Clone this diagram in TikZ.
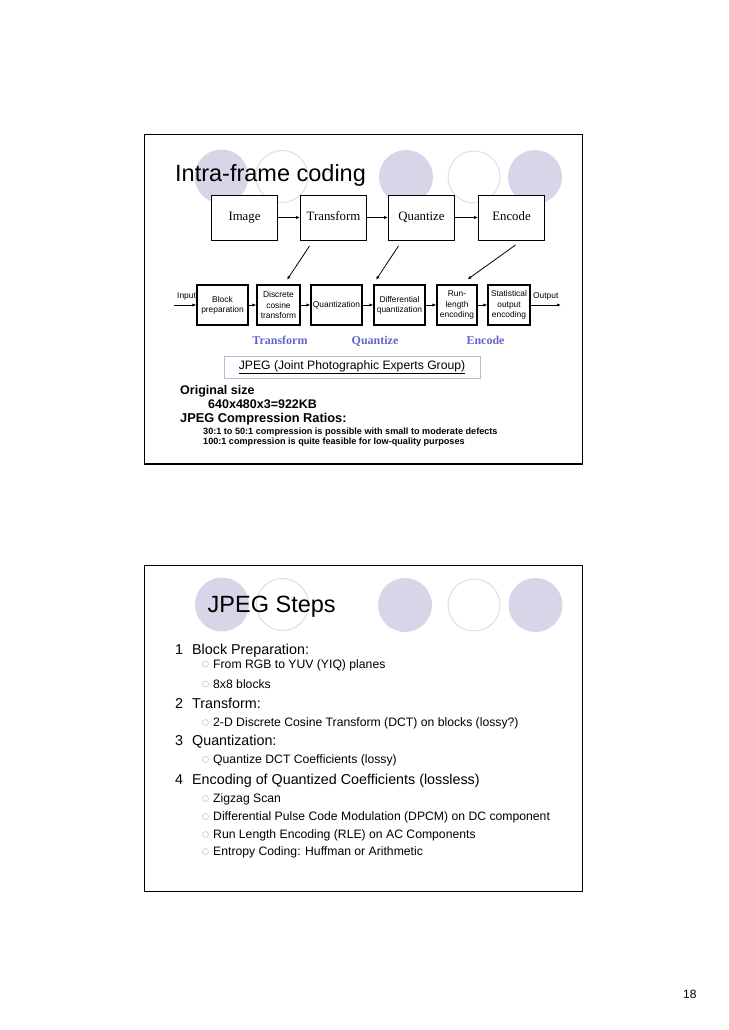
\documentclass[tikz,border=0pt]{standalone}
\usepackage{fontspec}
\setmainfont{Liberation Sans}
\newfontfamily\tms{Liberation Serif}
\usetikzlibrary{arrows.meta,calc}
\definecolor{lav}{RGB}{214,214,232}
\definecolor{lavline}{RGB}{218,218,234}
\definecolor{labblue}{RGB}{100,100,205}
\definecolor{jline}{RGB}{185,185,215}
\definecolor{bulc}{RGB}{200,200,218}
\newcommand{\fs}[1]{\fontsize{#1}{#1}\selectfont}
\begin{document}
\begin{tikzpicture}[x=1pt,y=-1pt,
  slide/.style={draw=black,line width=1.3pt},
  dfill/.style={fill=lav,draw=none},
  dring/.style={draw=lavline,line width=0.9pt,fill=white},
  tbox/.style={draw=black,line width=0.8pt,fill=white,minimum width=66pt,minimum height=45pt,inner sep=0pt,text height=9pt,text depth=3pt,font={\tms\fs{12.8}}},
  sbox/.style={draw=black,line width=1.2pt,fill=white,minimum height=40pt,inner sep=0pt,align=center,font={\fontsize{8.4}{10.3}\selectfont}},
  arr/.style={-{Latex[length=4pt,width=3.2pt]},line width=0.8pt},
  title/.style={anchor=base west,inner sep=0pt,font=\fs{23.5}},
  blab/.style={anchor=base,font={\tms\bfseries\fs{12}},text=labblue,inner sep=0pt},
  txt/.style={anchor=base west,inner sep=0pt},
  hdr/.style={anchor=base west,inner sep=0pt,font=\fs{14.3}},
  itm/.style={anchor=base west,inner sep=0pt,font=\fs{12.2}},
  bul/.style={draw=bulc,line width=0.6pt,fill=white}
]
\useasboundingbox (0,0) rectangle (728,1030);

% ---------- top slide ----------
\draw[slide] (144.5,134.5) rectangle (582.5,464);
\fill[dfill] (221.5,176.5) circle[radius=27pt];
\draw[dring] (282,176.5) circle[radius=26pt];
\fill[dfill] (406,177) circle[radius=27pt];
\draw[dring] (474,177) circle[radius=26pt];
\fill[dfill] (535,177) circle[radius=27pt];
\node[title] (t1) at (175,181.5) {Intra-frame coding};

\node[tbox] (img) at (244.5,217.5) {Image};
\node[tbox] (trf) at (333.5,217.5) {Transform};
\node[tbox] (qnt) at (421.5,217.5) {Quantize};
\node[tbox] (enc) at (511.5,217.5) {Encode};
\draw[arr] (img) -- (trf);
\draw[arr] (trf) -- (qnt);
\draw[arr] (qnt) -- (enc);

\node[sbox,minimum width=51pt] (bp) at (222.5,305) {Block\\preparation};
\node[sbox,minimum width=43pt] (dct) at (278.5,305) {Discrete\\cosine\\transform};
\node[sbox,minimum width=51pt] (qz) at (336.5,305) {Quantization};
\node[sbox,minimum width=51pt] (dq) at (399.5,305) {Differential\\quantization};
\node[sbox,minimum width=40pt] (rl) at (457,305) {Run-\\length\\encoding};
\node[sbox,minimum width=42pt] (st) at (509,305) {Statistical\\output\\encoding};
\coordinate (inp) at (174,305);
\coordinate (outp) at (561,305);
\node[txt,font=\fs{8.4}] (inl) at (177,298) {Input};
\node[txt,font=\fs{8.4}] (outl) at (533,298) {Output};
\draw[arr] (inp) -- (bp);
\draw[arr] (bp) -- (dct);
\draw[arr] (dct) -- (qz);
\draw[arr] (qz) -- (dq);
\draw[arr] (dq) -- (rl);
\draw[arr] (rl) -- (st);
\draw[arr] (st) -- (outp);

\coordinate (s1) at (309.5,246);
\coordinate (s2) at (398.5,246);
\coordinate (s3) at (515.5,245);
\draw[arr] (s1) -- ($(dct.north)+(8.5,-4.5)$);
\draw[arr] (s2) -- ($(dq.north)+(-23.5,-4.5)$);
\draw[arr] (s3) -- ($(rl.north)+(10.5,-5)$);

\node[blab] (l1) at (280,344) {Transform};
\node[blab] (l2) at (375,344) {Quantize};
\node[blab] (l3) at (485.5,344) {Encode};

\node[draw=jline,line width=0.8pt,minimum width=256pt,minimum height=22pt,inner sep=0pt,font=\fs{12.2}] (jp) at (352,367) {\underline{JPEG (Joint Photographic Experts Group)}};

\node[txt,font=\bfseries\fs{12.5}] (os) at (180,394) {Original size};
\node[txt,font=\bfseries\fs{12.5}] (sz) at (208,408) {640x480x3=922KB};
\node[txt,font=\bfseries\fs{12.8}] (cr) at (180,422) {JPEG Compression Ratios:};
\node[txt,font=\bfseries\fs{9.1}] (c1) at (203,434.5) {30:1 to 50:1 compression is possible with small to moderate defects};
\node[txt,font=\bfseries\fs{9.1}] (c2) at (203,444.5) {100:1 compression is quite feasible for low-quality purposes};

% ---------- bottom slide ----------
\draw[slide] (144.5,565.5) rectangle (582.5,891.5);
\fill[dfill] (222,604.5) circle[radius=27pt];
\draw[dring] (282.5,604.5) circle[radius=26pt];
\fill[dfill] (405,605) circle[radius=27pt];
\draw[dring] (474,605) circle[radius=26pt];
\fill[dfill] (535.5,605) circle[radius=27pt];
\node[title] (t2) at (207.5,612.5) {JPEG Steps};

\node[hdr] (n1) at (175,654) {1};
\node[hdr] (h1) at (192,654) {Block Preparation:};
\node[hdr] (n2) at (175,708) {2};
\node[hdr] (h2) at (192,708) {Transform:};
\node[hdr] (n3) at (175,745) {3};
\node[hdr] (h3) at (192,745) {Quantization:};
\node[hdr] (n4) at (175,784) {4};
\node[hdr] (h4) at (192,784) {Encoding of Quantized Coefficients (lossless)};

\foreach \y/\t in {668/{From RGB to YUV (YIQ) planes},688/{8x8 blocks},726.5/{2-D Discrete Cosine Transform (DCT) on blocks (lossy?)},763.5/{Quantize DCT Coefficients (lossy)},802.5/{Zigzag Scan},820.5/{Differential Pulse Code Modulation (DPCM) on DC component},838.5/{Run Length Encoding (RLE) on AC Components},855.5/{Entropy Coding: Huffman or Arithmetic}}{
  \draw[bul] (205.5,\y-4) circle[radius=3pt];
  \node[itm] at (213,\y) {\t};
}

\node[txt,font=\fs{12}] (pg) at (683,998) {18};
\end{tikzpicture}
\end{document}
